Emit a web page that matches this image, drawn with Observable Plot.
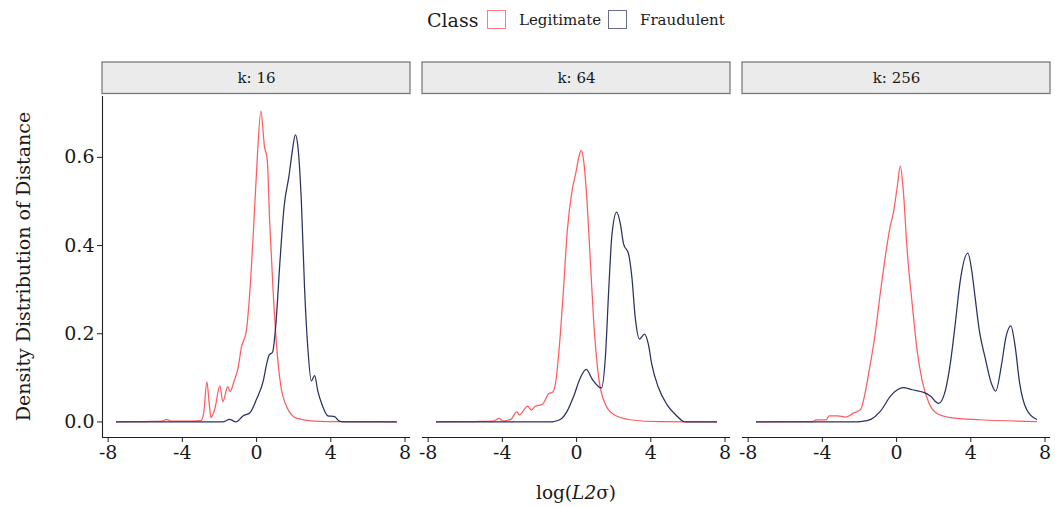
<!DOCTYPE html>
<html>
<head>
<meta charset="utf-8">
<script src="https://cdn.jsdelivr.net/npm/d3@7"></script>
<script src="https://cdn.jsdelivr.net/npm/@observablehq/plot@0.6"></script>
<style>
  body { margin: 0; background: #fff; font-family: "DejaVu Serif", serif; color: #1a1a1a; }
  #wrap { position: relative; width: 1055px; height: 507px; }
  .abs { position: absolute; white-space: nowrap; }
  .box { position: absolute; width: 17px; height: 17px; background: #fff; }
</style>
</head>
<body>
<div id="wrap">
  <div id="legend"></div>
  <div id="chart" class="abs" style="left:0;top:40px;"></div>
  <div id="xtitle" class="abs" style="left:102px;top:476px;width:948px;text-align:center;font-size:18.5px;line-height:34px;">log(<i>L2</i>σ)</div>
</div>
<script>
// ---- data ----
const kValues = ["16", "64", "256"];
const classes = ["Legitimate", "Fraudulent"];
const classColors = ["#FF5C62", "#2A3162"];
const xTicks = [-8, -4, 0, 4, 8];
const yTicks = [0, 0.2, 0.4, 0.6];

const legit16 = [[-7.55,0],[-6,0.001],[-5.1,0.002],[-4.85,0.006],[-4.6,0.002],[-3.5,0.002],[-3.0,0.003],[-2.85,0.02],[-2.68,0.091],[-2.55,0.04],[-2.46,0.010],[-2.25,0.03],[-1.98,0.082],[-1.82,0.046],[-1.55,0.080],[-1.43,0.069],[-1.21,0.093],[-1.0,0.122],[-0.82,0.169],[-0.55,0.207],[-0.36,0.298],[-0.15,0.449],[0.04,0.601],[0.23,0.705],[0.43,0.623],[0.57,0.597],[0.71,0.449],[0.89,0.298],[1.07,0.177],[1.29,0.086],[1.64,0.033],[2.18,0.008],[3.06,0.002],[5,0.0005],[7.53,0]];
const fraud16 = [[-7.55,0],[-2,0],[-1.75,0.001],[-1.46,0.006],[-1.11,0.0],[-0.72,0.014],[-0.36,0.021],[0.0,0.052],[0.36,0.093],[0.54,0.131],[0.68,0.152],[0.86,0.158],[1.04,0.222],[1.25,0.358],[1.48,0.487],[1.75,0.559],[1.93,0.616],[2.09,0.651],[2.23,0.623],[2.41,0.502],[2.59,0.298],[2.77,0.162],[2.95,0.093],[3.13,0.105],[3.30,0.070],[3.52,0.040],[3.84,0.014],[4.2,0.012],[4.46,0.002],[4.8,0],[7.53,0]];
const legit64 = [[-7.55,0],[-5.5,0.001],[-4.5,0.002],[-4.16,0.008],[-3.98,0.002],[-3.54,0.006],[-3.22,0.023],[-3.09,0.016],[-2.64,0.036],[-2.43,0.027],[-2.25,0.035],[-1.84,0.040],[-1.48,0.065],[-1.30,0.067],[-1.13,0.089],[-0.95,0.161],[-0.71,0.298],[-0.50,0.434],[-0.23,0.528],[-0.05,0.563],[0.12,0.600],[0.25,0.616],[0.39,0.589],[0.57,0.495],[0.75,0.358],[0.93,0.222],[1.19,0.101],[1.55,0.040],[2.0,0.017],[2.89,0.005],[4.5,0.0005],[7.54,0]];
const fraud64 = [[-7.55,0],[-1.5,0],[-1.22,0.001],[-0.86,0.006],[-0.50,0.025],[-0.15,0.059],[0.21,0.101],[0.52,0.119],[0.84,0.097],[1.34,0.077],[1.55,0.146],[1.73,0.298],[1.91,0.427],[2.16,0.476],[2.36,0.449],[2.53,0.404],[2.80,0.381],[2.98,0.328],[3.16,0.237],[3.39,0.188],[3.66,0.199],[3.87,0.176],[4.05,0.131],[4.41,0.078],[4.86,0.040],[5.39,0.014],[5.84,0],[7.54,0]];
const legit256 = [[-7.55,0],[-4.52,0.001],[-4.34,0.005],[-3.80,0.005],[-3.63,0.014],[-3.18,0.014],[-2.73,0.011],[-2.37,0.019],[-1.93,0.029],[-1.75,0.055],[-1.48,0.116],[-1.18,0.192],[-0.86,0.298],[-0.59,0.380],[-0.36,0.440],[-0.15,0.480],[0.04,0.535],[0.20,0.580],[0.36,0.525],[0.57,0.389],[0.84,0.268],[1.11,0.161],[1.38,0.093],[1.73,0.044],[2.18,0.019],[2.89,0.010],[4.5,0.005],[7.54,0.001]];
const fraud256 = [[-7.55,0],[-2.2,0],[-1.93,0.001],[-1.39,0.006],[-0.86,0.025],[-0.32,0.059],[0.04,0.073],[0.36,0.078],[0.84,0.073],[1.46,0.067],[1.82,0.059],[2.26,0.042],[2.62,0.070],[2.89,0.131],[3.16,0.222],[3.43,0.320],[3.84,0.383],[4.05,0.343],[4.23,0.283],[4.46,0.207],[4.77,0.146],[5.12,0.086],[5.34,0.070],[5.66,0.131],[5.89,0.192],[6.16,0.218],[6.37,0.177],[6.64,0.086],[7.0,0.029],[7.54,0.006]];

const series = {
  "16": {Legitimate: legit16, Fraudulent: fraud16},
  "64": {Legitimate: legit64, Fraudulent: fraud64},
  "256": {Legitimate: legit256, Fraudulent: fraud256}
};
const rows = [];
for (const k of kValues) for (const c of classes)
  for (const [x, y] of series[k][c]) rows.push({k, cls: c, x, y});

// ggplot-like 5% expansion of the data range
const xExt = d3.extent(rows, d => d.x), yExt = d3.extent(rows, d => d.y);
const xPad = (xExt[1] - xExt[0]) * 0.05, yPad = (yExt[1] - yExt[0]) * 0.05;
const xLo = xExt[0] - xPad, xHi = xExt[1] + xPad;
const yLo = yExt[0] - yPad, yHi = yExt[1] + yPad;
const pxPerY = 342 / (yHi - yLo);

// ---- legend ----
const legend = document.getElementById("legend");
legend.innerHTML = `
  <span class="abs" style="left:427px;top:7px;font-size:19px;line-height:26px;">Class</span>
  <span class="box" style="left:487px;top:10px;border:1.5px solid ${classColors[0]};opacity:0.8"></span>
  <span class="abs" style="left:519px;top:10px;font-size:15px;line-height:20px;">${classes[0]}</span>
  <span class="box" style="left:608px;top:10px;border:1.5px solid ${classColors[1]};opacity:0.7"></span>
  <span class="abs" style="left:640px;top:10px;font-size:15px;line-height:20px;">${classes[1]}</span>`;

const hyph = d => (d < 0 ? "-" + (-d) : String(d));

const chart = Plot.plot({
  width: 1055,
  height: 435,
  marginLeft: 102,
  marginRight: 5,
  marginTop: 55,
  marginBottom: 38,
  style: {fontFamily: "DejaVu Serif", fontSize: "19px", color: "#1a1a1a", background: "#fff"},
  fx: {domain: kValues, paddingInner: 0.0375, paddingOuter: 0, axis: null},
  x: {domain: [xLo, xHi]},
  y: {domain: [yLo, yHi]},
  color: {domain: classes, range: classColors},
  marks: [
    // strip boxes
    Plot.rect([0], {
      x1: () => xLo, x2: () => xHi,
      y1: () => yHi + 1.5 / pxPerY, y2: () => yHi + 33 / pxPerY,
      fill: "#EBEBEB", stroke: "#7a7a7a", strokeWidth: 1.3
    }),
    Plot.text(kValues, {fx: d => d, text: d => "k: " + d, frameAnchor: "top", lineAnchor: "middle", dy: -17, fontSize: 15}),
    // axis lines
    Plot.ruleY([yLo], {stroke: "#222", strokeWidth: 1.1}),
    Plot.ruleX([{k: kValues[0]}], {fx: "k", x: () => xLo, y1: () => yLo, y2: () => yHi - 1 / pxPerY, stroke: "#222", strokeWidth: 1.1}),
    Plot.axisX({ticks: xTicks, tickFormat: hyph, tickSize: 5, tickPadding: 3, label: null, stroke: "#222", fontSize: 19}),
    Plot.axisY({ticks: yTicks, tickFormat: d3.format(".1f"), tickSize: 5, tickPadding: 3, stroke: "#222", fontSize: 19,
      label: "Density Distribution of Distance", labelAnchor: "center", labelArrow: "none", labelOffset: 86}),
    // density curves
    Plot.line(rows, {fx: "k", x: "x", y: "y", z: "cls", stroke: "cls", strokeWidth: 1.25, curve: "monotone-x"})
  ]
});
document.getElementById("chart").appendChild(chart);
</script>
</body>
</html>
